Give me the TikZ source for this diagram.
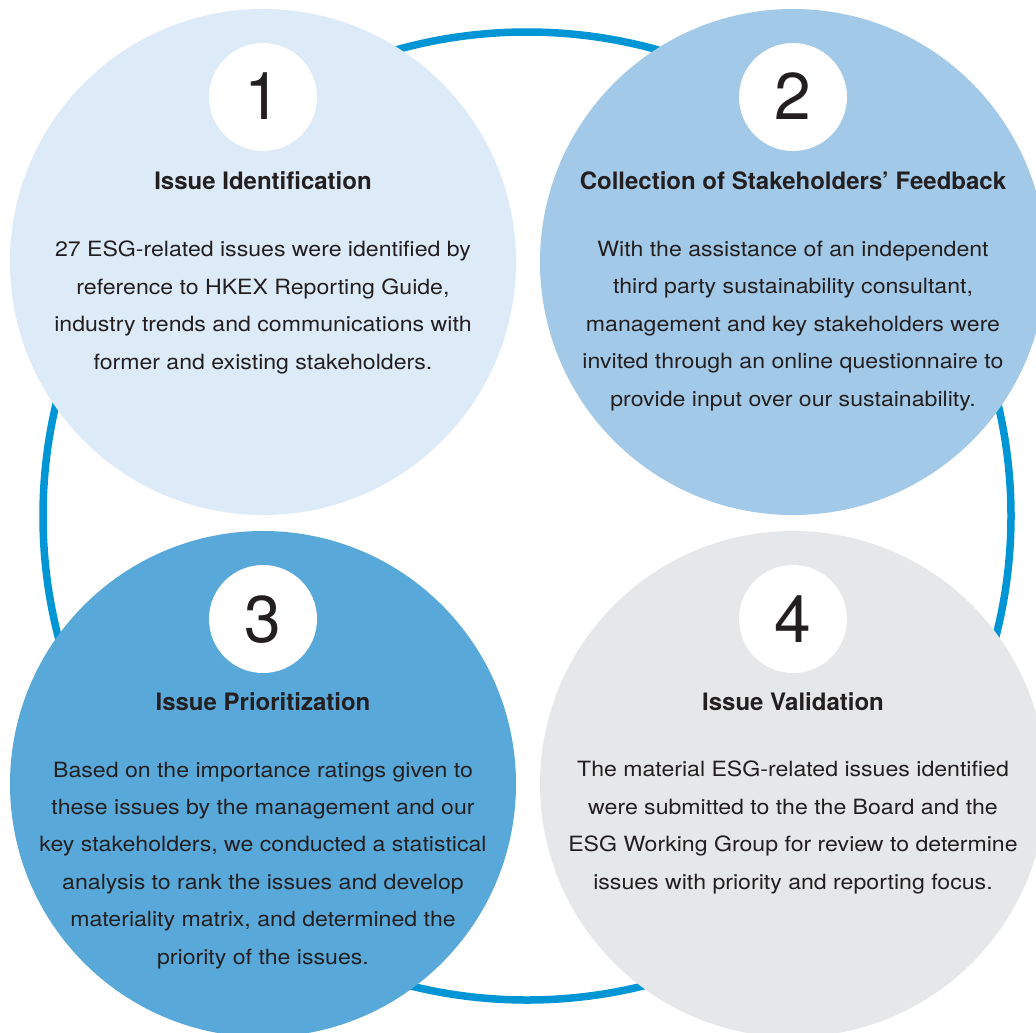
\documentclass[tikz,border=0pt]{standalone}
\usepackage{fontspec}
\setmainfont{TeX Gyre Heros}
\newfontfamily\bodyfont[FakeStretch=1.1]{TeX Gyre Heros}
\definecolor{ringblue}{HTML}{0096D5}
\definecolor{cone}{HTML}{DDEAF7}
\definecolor{ctwo}{HTML}{A3C9E8}
\definecolor{cthree}{HTML}{58A9DA}
\definecolor{cfour}{HTML}{E6E7E8}
\definecolor{ink}{HTML}{231F20}
\tikzset{
  bigcirc/.style={circle, minimum size=506pt, inner sep=0pt, draw=none},
  numcirc/.style={circle, fill=white, minimum size=108pt, inner sep=0pt},
  numtext/.style={anchor=base, text=ink, font=\fontsize{66}{66}\selectfont, inner sep=0pt},
  titletext/.style={anchor=base, text=ink, font=\fontsize{24}{27}\selectfont\bfseries, inner sep=0pt},
  bodytext/.style={anchor=base, text=ink, align=center, font=\bodyfont\fontsize{21}{37.4}\selectfont, inner sep=0pt},
}
\begin{document}
\begin{tikzpicture}[x=1pt,y=-1pt]
\useasboundingbox (0,0) rectangle (1036,1033);
\clip (0,0) rectangle (1036,1033);
\fill[white] (0,0) rectangle (1036,1033);
\node[circle, draw=ringblue, line width=7.5pt, minimum size=968pt, inner sep=0pt] (ring) at (527,516) {};
\node[bigcirc, fill=cone] (c1) at (263,262) {};
\node[bigcirc, fill=ctwo] (c2) at (793,262) {};
\node[bigcirc, fill=cthree] (c3) at (263,784) {};
\node[bigcirc, fill=cfour] (c4) at (793,784) {};
\node[numcirc] (n1) at (263,97) {};
\node[numcirc] (n2) at (793,97) {};
\node[numcirc] (n3) at (263,619) {};
\node[numcirc] (n4) at (793,619) {};
\node[numtext] (d1) at (263,119) {1};
\node[numtext] (d2) at (793,119) {2};
\node[numtext] (d3) at (263,642) {3};
\node[numtext] (d4) at (793,642) {4};
\node[titletext] (t1) at (263,189) {Issue Identification};
\node[titletext] (t2) at (793,189) {Collection of Stakeholders’ Feedback};
\node[titletext] (t3) at (263,710) {Issue Prioritization};
\node[titletext] (t4) at (793,710) {Issue Validation};
% base anchor = baseline of the last line
\node[bodytext] (b1) at (263,369) {27 ESG-related issues were identified by\\reference to HKEX Reporting Guide,\\industry trends and communications with\\former and existing stakeholders.};
\node[bodytext] (b2) at (793,406) {With the assistance of an independent\\third party sustainability consultant,\\management and key stakeholders were\\invited through an online questionnaire to\\provide input over our sustainability.};
\node[bodytext] (b3) at (263,964) {Based on the importance ratings given to\\these issues by the management and our\\key stakeholders, we conducted a statistical\\analysis to rank the issues and develop\\materiality matrix, and determined the\\priority of the issues.};
\node[bodytext] (b4) at (793,889) {The material ESG-related issues identified\\were submitted to the the Board and the\\ESG Working Group for review to determine\\issues with priority and reporting focus.};
\end{tikzpicture}
\end{document}
